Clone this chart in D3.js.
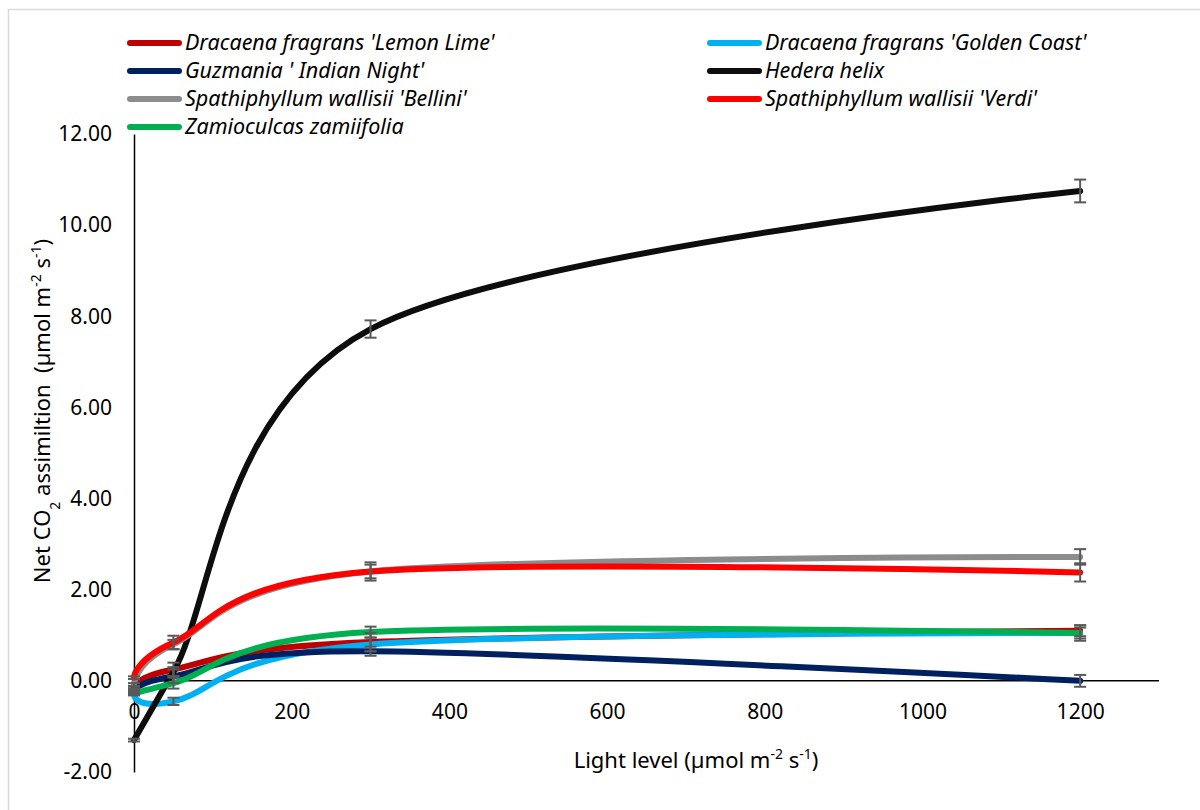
<!DOCTYPE html>
<html>
<head>
<meta charset="utf-8">
<script src="https://cdn.jsdelivr.net/npm/d3@7"></script>
<style>
body { margin: 0; background: #fff; }
text { font-family: "Noto Sans", "DejaVu Sans", sans-serif; fill: #000; }
</style>
</head>
<body>
<div class="chart"></div>
<script>
var outerW = 1200,
	outerH = 810;

// Data
var lightLevels = [0, 50, 300, 1200];
var seriesNames = [
	"Dracaena fragrans 'Lemon Lime'",
	"Dracaena fragrans 'Golden Coast'",
	"Guzmania ' Indian Night'",
	"Hedera helix",
	"Spathiphyllum wallisii 'Bellini'",
	"Spathiphyllum wallisii 'Verdi'",
	"Zamioculcas zamiifolia"
];
var seriesColors = ["#C00000", "#00B0F0", "#002060", "#0D0D0D", "#8C8C8C", "#FF0000", "#00B050"];
var lemonLime   = [-0.15, 0.25, 0.85, 1.10];
var goldenCoast = [-0.30, -0.45, 0.80, 1.05];
var guzmania    = [-0.22, 0.10, 0.65, 0.00];
var hedera      = [-1.30, 0.20, 7.72, 10.75];
var bellini     = [-0.08, 0.80, 2.40, 2.72];
var verdi       = [0.07, 0.84, 2.40, 2.38];
var zamio       = [-0.27, -0.05, 1.07, 1.05];
var lemonLimeErr   = [0.02, 0.15, 0.20, 0.12];
var goldenCoastErr = [0.02, 0.08, 0.15, 0.12];
var guzmaniaErr    = [0.02, 0.15, 0.10, 0.13];
var hederaErr      = [0.03, 0.10, 0.19, 0.25];
var belliniErr     = [0.03, 0.10, 0.15, 0.17];
var verdiErr       = [0.03, 0.15, 0.20, 0.20];
var zamioErr       = [0.02, 0.12, 0.12, 0.17];
var xTicks = [0, 200, 400, 600, 800, 1000, 1200];
var yTicks = [-2, 0, 2, 4, 6, 8, 10, 12];

var seriesValues = [lemonLime, goldenCoast, guzmania, hedera, bellini, verdi, zamio];
var seriesErrors = [lemonLimeErr, goldenCoastErr, guzmaniaErr, hederaErr, belliniErr, verdiErr, zamioErr];

var svg = d3.select(".chart")
	.append("svg")
	.attr("width", outerW)
	.attr("height", outerH);

// chart border
svg.append("rect")
	.attr("x", 8.5)
	.attr("y", 9.5)
	.attr("width", 1210)
	.attr("height", 820)
	.attr("fill", "none")
	.attr("stroke", "#D9D9D9")
	.attr("stroke-width", 1.5);

var x = d3.scaleLinear().domain([0, 1300]).range([134, 1159]);
var y = d3.scaleLinear().domain([-2, 12]).range([772, 134]);

/********************************************************************
 * Axes
 ********************************************************************/

var yAxis = svg.append("g")
	.attr("transform", "translate(" + x(0) + ",0)")
	.call(d3.axisLeft(y)
		.tickValues(yTicks)
		.tickFormat(function(d) { return d.toFixed(2); })
		.tickSize(0)
		.tickPadding(22));

var xAxis = svg.append("g")
	.attr("transform", "translate(0," + y(0) + ")")
	.call(d3.axisBottom(x)
		.tickValues(xTicks)
		.tickFormat(function(d) { return String(d); })
		.tickSize(0)
		.tickPadding(23));

svg.selectAll(".domain")
	.attr("stroke", "#000")
	.attr("stroke-width", 1.5);
// x axis line runs the full width
xAxis.select(".domain").attr("d", "M" + x(0) + ",0H" + x(1300));

svg.selectAll(".tick text")
	.style("font-family", "'Noto Sans', sans-serif")
	.style("font-size", "21px")
	.attr("fill", "#000");

// axis titles
var xTitle = svg.append("text")
	.attr("x", 696)
	.attr("y", 768)
	.attr("text-anchor", "middle")
	.style("font-size", "22px");
xTitle.append("tspan").text("Light level (µmol m");
xTitle.append("tspan").attr("baseline-shift", "super").style("font-size", "14px").text("-2");
xTitle.append("tspan").text(" s");
xTitle.append("tspan").attr("baseline-shift", "super").style("font-size", "14px").text("-1");
xTitle.append("tspan").text(")");

var yTitle = svg.append("text")
	.attr("transform", "translate(50,411) rotate(-90)")
	.attr("text-anchor", "middle")
	.style("white-space", "pre")
	.style("font-size", "22px");
yTitle.append("tspan").text("Net CO");
yTitle.append("tspan").attr("baseline-shift", "sub").style("font-size", "14px").text("2");
yTitle.append("tspan").text(" assimiltion  (µmol m");
yTitle.append("tspan").attr("baseline-shift", "super").style("font-size", "14px").text("-2");
yTitle.append("tspan").text(" s");
yTitle.append("tspan").attr("baseline-shift", "super").style("font-size", "14px").text("-1");
yTitle.append("tspan").text(")");

/********************************************************************
 * Lines + error bars
 ********************************************************************/

var line = d3.line()
	.x(function(d) { return x(d[0]); })
	.y(function(d) { return y(d[1]); })
	.curve(d3.curveCardinal.tension(0));

for (let s = 0; s < seriesNames.length; s++) {
	var pts = lightLevels.map(function(l, i) { return [l, seriesValues[s][i]]; });
	svg.append("path")
		.attr("d", line(pts))
		.attr("fill", "none")
		.attr("stroke", seriesColors[s])
		.attr("stroke-width", 6)
		.attr("stroke-linecap", "round");
}

var capW = 6;
for (let s = 0; s < seriesNames.length; s++) {
	for (let i = 0; i < lightLevels.length; i++) {
		let cx = x(lightLevels[i]);
		let yTop = y(seriesValues[s][i] + seriesErrors[s][i]);
		let yBot = y(seriesValues[s][i] - seriesErrors[s][i]);
		let g = svg.append("g")
			.attr("stroke", "#595959")
			.attr("stroke-width", 2);
		g.append("line").attr("x1", cx).attr("x2", cx).attr("y1", yTop).attr("y2", yBot);
		g.append("line").attr("x1", cx - capW).attr("x2", cx + capW).attr("y1", yTop).attr("y2", yTop);
		g.append("line").attr("x1", cx - capW).attr("x2", cx + capW).attr("y1", yBot).attr("y2", yBot);
	}
}

/********************************************************************
 * Legend
 ********************************************************************/

var legendCols = [127, 707];
var legendRows = [43, 71, 99, 127];
for (let s = 0; s < seriesNames.length; s++) {
	let lx = legendCols[s % 2];
	let ly = legendRows[Math.floor(s / 2)];
	svg.append("line")
		.attr("x1", lx + 3).attr("x2", lx + 52)
		.attr("y1", ly).attr("y2", ly)
		.attr("stroke", seriesColors[s])
		.attr("stroke-width", 6)
		.attr("stroke-linecap", "round");
	svg.append("text")
		.attr("x", lx + 58)
		.attr("y", ly + 7)
		.style("font-size", "21.5px")
		.style("font-style", "italic")
		.text(seriesNames[s]);
}
</script>
</body>
</html>
